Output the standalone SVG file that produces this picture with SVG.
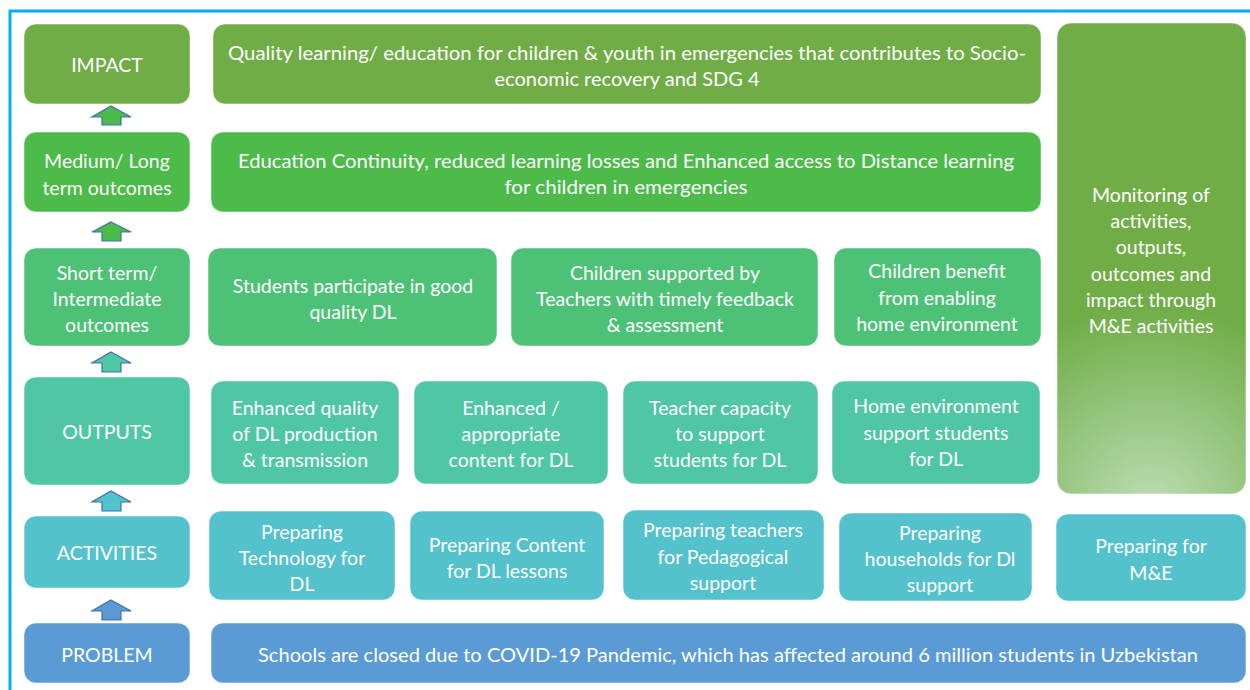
<svg xmlns="http://www.w3.org/2000/svg" width="1250" height="690" viewBox="0 0 1250 690">
<style>
.b{stroke:#ffffff;stroke-opacity:0.5;stroke-width:1}
.imp{fill:#70AD47}.med{fill:#4CBB4A}.sho{fill:#4DC277}.out{fill:#50C7A4}.act{fill:#53C2CD}.pro{fill:#5B9BD5}
text{font-family:Lato,"Open Sans","Liberation Sans",sans-serif;font-size:19.5px;fill:#ffffff;text-anchor:middle;dominant-baseline:central}
.arr{stroke:#3F6FAF;stroke-width:1.2}
</style>
<defs>
<radialGradient id="me" gradientUnits="userSpaceOnUse" cx="1151" cy="505" r="200">
<stop offset="0" stop-color="#BCDDB5"/>
<stop offset="1" stop-color="#70AD47"/>
</radialGradient>
</defs>
<rect width="1250" height="690" fill="#ffffff"/>
<rect x="10" y="11" width="1262" height="700" fill="none" stroke="#00B0F0" stroke-width="3"/>

<g id="connectors">
<polygon class="arr" fill="#4CBB4A" points="111,106 131,117 121,117 121,125 102,125 102,117 92,117"/>
<polygon class="arr" fill="#4CBB4A" points="111,222 131,232 121,232 121,241 102,241 102,232 92,232"/>
<polygon class="arr" fill="#50C7A4" points="111,352 131,363 121,363 121,372 102,372 102,363 92,363"/>
<polygon class="arr" fill="#53C2CD" points="111,491 131,502 121,502 121,511 102,511 102,502 92,502"/>
<polygon class="arr" fill="#5B9BD5" points="111,600 131,611 121,611 121,620 102,620 102,611 92,611"/>
</g>

<g id="impact-label"><rect class="b imp" x="24" y="24" width="166" height="80" rx="12"/><text x="107" y="64">IMPACT</text></g>
<g id="impact"><rect class="b imp" x="213" y="24" width="828" height="80" rx="12"/>
<text x="627" y="52" textLength="798" lengthAdjust="spacingAndGlyphs">Quality learning/ education for children &amp; youth in emergencies that contributes to Socio-</text>
<text x="627" y="78" textLength="265" lengthAdjust="spacingAndGlyphs">economic recovery and SDG 4</text></g>

<g id="medium-label"><rect class="b med" x="24" y="132" width="166" height="80" rx="12"/><text x="107" y="160">Medium/ Long</text><text x="107" y="187">term outcomes</text></g>
<g id="medium"><rect class="b med" x="211" y="132" width="830" height="80" rx="12"/>
<text x="626" y="160" textLength="776" lengthAdjust="spacingAndGlyphs">Education Continuity, reduced learning losses and Enhanced access to Distance learning</text>
<text x="626" y="186" textLength="243" lengthAdjust="spacingAndGlyphs">for children in emergencies</text></g>

<g id="short-label"><rect class="b sho" x="24" y="248" width="166" height="98" rx="12"/><text x="107" y="272">Short term/</text><text x="107" y="298">Intermediate</text><text x="107" y="324">outcomes</text></g>
<g id="short1"><rect class="b sho" x="208" y="248" width="289" height="98" rx="12"/><text x="353" y="285">Students participate in good</text><text x="353" y="311">quality DL</text></g>
<g id="short2"><rect class="b sho" x="511" y="248" width="307" height="98" rx="12"/><text x="665" y="272">Children supported by</text><text x="665" y="298">Teachers with timely feedback</text><text x="665" y="324">&amp; assessment</text></g>
<g id="short3"><rect class="b sho" x="834" y="248" width="207" height="98" rx="12"/><text x="937" y="270">Children benefit</text><text x="937" y="297">from enabling</text><text x="937" y="323">home environment</text></g>

<g id="outputs-label"><rect class="b out" x="24" y="377" width="166" height="108" rx="12"/><text x="107" y="431">OUTPUTS</text></g>
<g id="out1"><rect class="b out" x="211" y="381" width="188" height="103" rx="12"/><text x="305" y="407">Enhanced quality</text><text x="305" y="433">of DL production</text><text x="305" y="459">&amp; transmission</text></g>
<g id="out2"><rect class="b out" x="414" y="381" width="194" height="103" rx="12"/><text x="511" y="407">Enhanced /</text><text x="511" y="433">appropriate</text><text x="511" y="459">content for DL</text></g>
<g id="out3"><rect class="b out" x="623" y="381" width="195" height="103" rx="12"/><text x="720" y="407">Teacher capacity</text><text x="720" y="433">to support</text><text x="720" y="459">students for DL</text></g>
<g id="out4"><rect class="b out" x="832" y="381" width="208" height="103" rx="12"/><text x="936" y="405">Home environment</text><text x="936" y="432">support students</text><text x="936" y="458">for DL</text></g>

<g id="me-box"><rect class="b" fill="url(#me)" x="1057" y="23" width="189" height="471" rx="14"/>
<text x="1151" y="194">Monitoring of</text><text x="1151" y="220">activities,</text><text x="1151" y="246">outputs,</text><text x="1151" y="273">outcomes and</text><text x="1151" y="299">impact through</text><text x="1151" y="325">M&amp;E activities</text></g>

<g id="activities-label"><rect class="b act" x="24" y="516" width="166" height="72" rx="12"/><text x="107" y="552">ACTIVITIES</text></g>
<g id="act1"><rect class="b act" x="209" y="511" width="186" height="89" rx="12"/><text x="302" y="531">Preparing</text><text x="302" y="557">Technology for</text><text x="302" y="583">DL</text></g>
<g id="act2"><rect class="b act" x="410" y="511" width="194" height="89" rx="12"/><text x="507" y="544">Preparing Content</text><text x="507" y="570">for DL lessons</text></g>
<g id="act3"><rect class="b act" x="623" y="510" width="201" height="90" rx="12"/><text x="723" y="529">Preparing teachers</text><text x="723" y="556">for Pedagogical</text><text x="723" y="582">support</text></g>
<g id="act4"><rect class="b act" x="839" y="513" width="193" height="88" rx="12"/><text x="940" y="532">Preparing</text><text x="940" y="558">households for Dl</text><text x="940" y="584">support</text></g>
<g id="act5"><rect class="b act" x="1056" y="514" width="190" height="87" rx="12"/><text x="1151" y="545">Preparing for</text><text x="1151" y="572">M&amp;E</text></g>

<g id="problem-label"><rect class="b pro" x="24" y="623" width="166" height="60" rx="12"/><text x="107" y="654">PROBLEM</text></g>
<g id="problem"><rect class="b pro" x="211" y="623" width="1035" height="60" rx="12"/>
<text x="728" y="654" textLength="940" lengthAdjust="spacingAndGlyphs">Schools are closed due to COVID-19 Pandemic, which has affected around 6 million students in Uzbekistan</text></g>
</svg>
